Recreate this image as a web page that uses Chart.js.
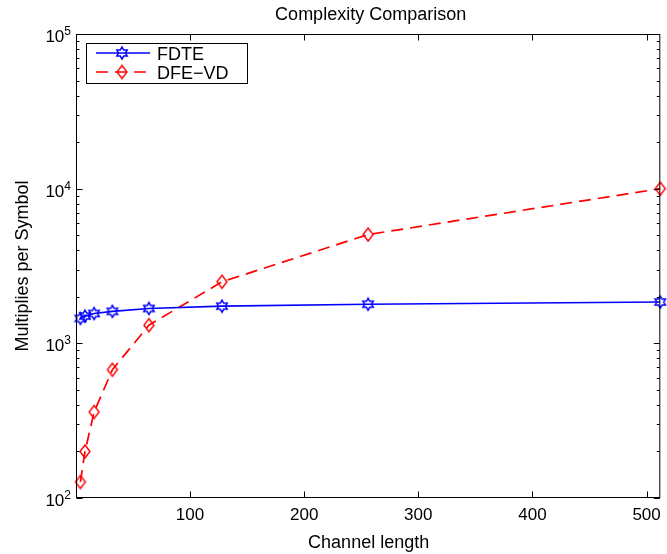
<!DOCTYPE html>
<html>
<head>
<meta charset="utf-8">
<title>Complexity Comparison</title>
<script src="https://cdn.jsdelivr.net/npm/chart.js@4.4.1/dist/chart.umd.min.js"></script>
<style>
  html, body { margin:0; padding:0; background:#fff; }
  #chart { display:block; }
</style>
</head>
<body>
<canvas id="chart" width="667" height="554"></canvas>
<script>
const channelLengths = [4, 8, 16, 32, 64, 128, 256, 512];
const fdteMults = [1450, 1500, 1560, 1610, 1680, 1740, 1790, 1850];
const dfeMults = [127, 200, 360, 675, 1310, 2500, 5050, 10000];
const xTickValues = [100, 200, 300, 400, 500];
const yTickValues = [100, 1000, 10000, 100000];
const seriesLabels = ['FDTE', 'DFE\u2212VD'];

const FONT = '"Liberation Sans", Arial, Helvetica, sans-serif';

function hexagram(color, R){
  const size = Math.ceil(R*2 + 4);
  const c = document.createElement('canvas');
  c.width = c.height = size;
  const ctx = c.getContext('2d');
  const cx = size/2, cy = size/2;
  ctx.beginPath();
  for (let i = 0; i < 12; i++){
    const a = -Math.PI/2 + i*Math.PI/6;
    const r = i % 2 === 0 ? R : R/Math.sqrt(3);
    const px = cx + r*Math.cos(a), py = cy + r*Math.sin(a);
    if (i === 0) ctx.moveTo(px, py); else ctx.lineTo(px, py);
  }
  ctx.closePath();
  ctx.strokeStyle = color;
  ctx.lineWidth = 1.5;
  ctx.stroke();
  return c;
}

function diamond(color, w, h){
  const c = document.createElement('canvas');
  c.width = w + 4; c.height = h + 4;
  const ctx = c.getContext('2d');
  const cx = c.width/2, cy = c.height/2;
  ctx.beginPath();
  ctx.moveTo(cx, cy - h/2);
  ctx.lineTo(cx + w/2, cy);
  ctx.lineTo(cx, cy + h/2);
  ctx.lineTo(cx - w/2, cy);
  ctx.closePath();
  ctx.strokeStyle = color;
  ctx.lineWidth = 1.4;
  ctx.stroke();
  return c;
}

const starMark = hexagram('#0000ff', 6);
const diamondMark = diamond('#ff0000', 10, 13);

// box, inward ticks, texts and legend drawn the MATLAB way
const matlabFrame = {
  id: 'matlabFrame',
  afterDraw(chart){
    const { ctx, chartArea: a, scales } = chart;
    const xs = scales.x, ys = scales.y;
    const L = a.left - 0.5, R = a.right - 0.5, T = a.top + 0.5, B = a.bottom - 0.5;
    ctx.save();
    ctx.strokeStyle = '#000';
    ctx.lineWidth = 1;
    ctx.strokeRect(L, T, R - L, B - T);

    ctx.beginPath();
    xTickValues.forEach(v => {
      const px = Math.round(xs.getPixelForValue(v)) + 0.5;
      ctx.moveTo(px, B); ctx.lineTo(px, B - 6);
      ctx.moveTo(px, T); ctx.lineTo(px, T + 6);
    });
    for (let d = 0; d < yTickValues.length; d++){
      const base = yTickValues[d];
      const py = Math.round(ys.getPixelForValue(base)) + 0.5;
      ctx.moveTo(L, py); ctx.lineTo(L + 6, py);
      ctx.moveTo(R, py); ctx.lineTo(R - 6, py);
      if (d === yTickValues.length - 1) break;
      for (let m = 2; m <= 9; m++){
        const pm = Math.round(ys.getPixelForValue(base*m)) + 0.5;
        ctx.moveTo(L, pm); ctx.lineTo(L + 3, pm);
        ctx.moveTo(R, pm); ctx.lineTo(R - 3, pm);
      }
    }
    ctx.stroke();

    ctx.fillStyle = '#000';
    ctx.font = '17px ' + FONT;
    ctx.textAlign = 'center';
    ctx.textBaseline = 'alphabetic';
    xTickValues.forEach(v => ctx.fillText(String(v), xs.getPixelForValue(v), 520));

    yTickValues.forEach(v => {
      const py = ys.getPixelForValue(v);
      const exp = String(Math.round(Math.log10(v)));
      ctx.font = '12px ' + FONT;
      ctx.textAlign = 'left';
      const ew = ctx.measureText(exp).width;
      ctx.fillText(exp, a.left - 6 - ew, py + 1);
      ctx.font = '17px ' + FONT;
      ctx.textAlign = 'right';
      ctx.fillText('10', a.left - 6 - ew, py + 8);
    });

    const cx = (a.left + a.right)/2;
    ctx.font = '18px ' + FONT;
    ctx.textAlign = 'center';
    ctx.fillText('Complexity Comparison', cx + 2, 20);
    ctx.fillText('Channel length', cx, 548);
    ctx.save();
    ctx.translate(28, (a.top + a.bottom)/2);
    ctx.rotate(-Math.PI/2);
    ctx.fillText('Multiplies per Symbol', 0, 0);
    ctx.restore();

    // legend
    const lx = 86, ly = 43, lw = 161, lh = 40;
    ctx.fillStyle = '#fff';
    ctx.fillRect(lx, ly, lw, lh);
    ctx.strokeRect(lx + 0.5, ly + 0.5, lw, lh);
    chart.data.datasets.forEach((ds, i) => {
      const y = ly + 10 + i*19;
      ctx.save();
      ctx.strokeStyle = ds.borderColor;
      ctx.lineWidth = ds.borderWidth;
      ctx.setLineDash(ds.borderDash || []);
      ctx.beginPath();
      ctx.moveTo(96, y); ctx.lineTo(150, y);
      ctx.stroke();
      ctx.restore();
      const img = ds.pointStyle;
      ctx.drawImage(img, 122 - img.width/2, y - img.height/2);
      ctx.fillStyle = '#000';
      ctx.font = '18px ' + FONT;
      ctx.textAlign = 'left';
      ctx.fillText(ds.label, 157, y + 6.5);
    });
    ctx.restore();
  }
};

new Chart(document.getElementById('chart'), {
  type: 'line',
  data: {
    datasets: [
      {
        label: seriesLabels[0],
        data: channelLengths.map((x, i) => ({ x, y: fdteMults[i] })),
        borderColor: '#0000ff',
        borderWidth: 1.7,
        pointStyle: starMark,
        pointRadius: 5,
        clip: false,
      },
      {
        label: seriesLabels[1],
        data: channelLengths.map((x, i) => ({ x, y: dfeMults[i] })),
        borderColor: '#ff0000',
        borderWidth: 1.7,
        borderDash: [12, 7],
        pointStyle: diamondMark,
        pointRadius: 5,
        clip: false,
      }
    ]
  },
  options: {
    responsive: false,
    animation: false,
    devicePixelRatio: 1,
    layout: { padding: { top: 34, right: 4, left: 0, bottom: 0 } },
    plugins: { legend: { display: false }, title: { display: false }, tooltip: { enabled: false } },
    scales: {
      x: {
        type: 'linear', min: 1, max: 512,
        grid: { display: false, drawTicks: false },
        border: { display: false },
        ticks: { display: false },
        afterBuildTicks(s){ s.ticks = xTickValues.map(v => ({ value: v })); },
        afterFit(s){ s.height = 56; }
      },
      y: {
        type: 'logarithmic', min: 100, max: 100000,
        grid: { display: false, drawTicks: false },
        border: { display: false },
        ticks: { display: false },
        afterBuildTicks(s){ s.ticks = yTickValues.map(v => ({ value: v })); },
        afterFit(s){ s.width = 77; }
      }
    }
  },
  plugins: [matlabFrame]
});
</script>
</body>
</html>
